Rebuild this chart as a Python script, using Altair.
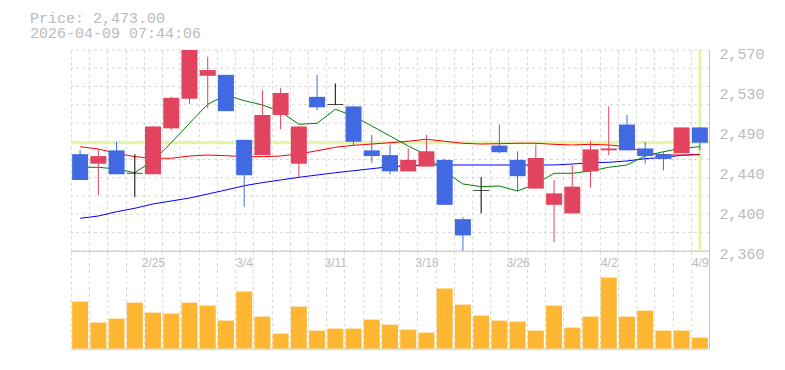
import json
import pandas as pd
import altair as alt

# ---------------- data ----------------
dates = ['2/18', '2/19', '2/20', '2/24', '2/25', '2/26', '2/27', '3/2', '3/3', '3/4',
         '3/5', '3/6', '3/9', '3/10', '3/11', '3/12', '3/13', '3/16', '3/17', '3/18',
         '3/19', '3/23', '3/24', '3/25', '3/26', '3/27', '3/30', '3/31', '4/1', '4/2',
         '4/3', '4/6', '4/7', '4/8', '4/9']
opens = [2461, 2451, 2465, 2441, 2440, 2488, 2519, 2543, 2544, 2476,
         2460, 2502, 2451, 2521, 2513, 2511, 2465, 2460, 2443, 2448,
         2455, 2393, 2423, 2470, 2455, 2425, 2408, 2399, 2443, 2465,
         2492, 2467, 2461, 2462, 2489]
highs = [2465, 2466, 2474, 2461, 2490, 2521, 2570, 2563, 2544, 2476,
         2528, 2530, 2490, 2544, 2535, 2511, 2481, 2471, 2467, 2481,
         2456, 2395, 2437, 2492, 2464, 2471, 2434, 2450, 2475, 2511,
         2502, 2474, 2463, 2489, 2489]
lows = [2434, 2418, 2440, 2416, 2440, 2486, 2514, 2509, 2506, 2406,
        2460, 2487, 2437, 2507, 2513, 2470, 2452, 2440, 2443, 2448,
        2408, 2360, 2399, 2462, 2422, 2425, 2369, 2399, 2426, 2460,
        2465, 2451, 2444, 2462, 2465]
closes = [2434, 2459, 2440, 2441, 2490, 2520, 2570, 2549, 2506, 2439,
          2502, 2525, 2490, 2510, 2513, 2474, 2459, 2443, 2455, 2464,
          2408, 2376, 2423, 2463, 2438, 2457, 2420, 2427, 2466, 2467,
          2465, 2459, 2456, 2489, 2473]
ma_short = [2447.3, 2447.3, 2445.5, 2441.6, 2454.2, 2473.0, 2493.3, 2513.2, 2522.9, 2517.0,
            2512.5, 2505.4, 2492.3, 2493.3, 2508.0, 2500.9, 2490.5, 2480.0, 2469.6, 2460.1,
            2442.7, 2429.8, 2427.0, 2427.7, 2422.5, 2429.8, 2441.0, 2441.0, 2443.4, 2447.3,
            2449.7, 2459.1, 2463.6, 2467.1, 2468.8]
ma_mid = [2468.8, 2466.4, 2461.9, 2458.4, 2456.7, 2456.7, 2459.1, 2460.1, 2459.4, 2458.4,
          2458.4, 2459.1, 2461.2, 2464.6, 2468.2, 2470.3, 2471.6, 2473.0, 2474.5, 2476.6,
          2474.5, 2472.4, 2471.6, 2472.0, 2472.4, 2472.4, 2471.3, 2470.6, 2471.3, 2470.6,
          2468.8, 2462.5, 2460.4, 2460.1, 2460.4]
ma_long = [2393.9, 2396.3, 2400.8, 2404.4, 2408.9, 2412.0, 2415.1, 2419.3, 2423.5, 2428.0,
           2431.2, 2434.0, 2436.8, 2439.2, 2441.6, 2443.7, 2445.8, 2447.9, 2448.9, 2449.7,
           2449.7, 2449.7, 2449.7, 2449.7, 2449.7, 2449.7, 2449.7, 2450.7, 2452.1, 2452.5,
           2453.9, 2456.3, 2457.7, 2459.8, 2460.9]
volumes = [47000, 26000, 30000, 46000, 36000, 35000, 46000, 43000, 28000, 57000,
           32000, 15000, 42000, 18000, 20000, 20000, 29000, 24000, 19000, 16000,
           60000, 44000, 33000, 28000, 27000, 18000, 43000, 21000, 32000, 71000,
           32000, 38000, 18000, 18000, 11000]
x_label_dates = ['2/25', '3/4', '3/11', '3/18', '3/26', '4/2', '4/9']
y_tick_values = [2360, 2402, 2444, 2486, 2528, 2570]
y_tick_labels = ['2,360', '2,400', '2,440', '2,490', '2,530', '2,570']
price_domain = [2360, 2570]
volume_domain = [0, 97600]
current_price = 2473
price_text = "Price: 2,473.00"
time_text = "2026-04-09 07:44:06"

# ---------------- styles ----------------
RED = "#e2435e"
BLUE = "#4169e1"
ORANGE = "#ffb733"
HILITE = "#e2f5a6"
GRID = "#d8d8d8"
BORDER = "#c4c4c4"
LABEL = "#bbbbbb"
MONO = "Liberation Mono"
W = 638
PH = 200.7
VH = 97.6

df = pd.DataFrame({
    'i': list(range(len(dates))), 'd': dates, 'o': opens, 'h': highs, 'l': lows,
    'c': closes, 'ma_s': ma_short, 'ma_m': ma_mid, 'ma_l': ma_long, 'v': volumes,
})
df['dir'] = ['up' if c > o else ('down' if c < o else 'flat') for o, c in zip(opens, closes)]

grid_vals = [price_domain[0] + (price_domain[1] - price_domain[0]) * k / 11 for k in range(12)]

x_scale = alt.Scale(domain=dates, paddingInner=0, paddingOuter=0, round=False)
y_scale = alt.Scale(domain=price_domain, nice=False, zero=False)
color_scale = alt.Scale(domain=['up', 'down', 'flat'], range=[RED, BLUE, 'black'])

x_label_expr = f"indexof({json.dumps(x_label_dates)}, datum.value) >= 0 ? datum.value : ''"
y_label_expr = f"{json.dumps(y_tick_labels)}[indexof({json.dumps(y_tick_values)}, datum.value)]"

price_x_axis = alt.Axis(
    title=None, labelExpr=x_label_expr, ticks=False, tickSize=0, domain=True,
    domainColor=BORDER, domainWidth=1, grid=True, gridColor=GRID, gridDash=[3, 3],
    tickBand='extent', labelFont='Liberation Sans', labelFontSize=12, labelColor=LABEL,
    labelPadding=7, labelAngle=0, labelFlush=False, labelOverlap=False)
price_y_axis = alt.Axis(
    title=None, orient='right', values=y_tick_values, labelExpr=y_label_expr,
    ticks=False, tickSize=0, grid=False, domain=True, domainColor=BORDER,
    labelFont=MONO, labelFontSize=15, labelColor=LABEL, labelPadding=10,
    labelOffset=3, labelFlush=False, labelOverlap=False)


def xenc():
    return alt.X('d:O', scale=x_scale, axis=price_x_axis, title=None)


def yenc(field):
    return alt.Y(field, scale=y_scale, axis=price_y_axis, title=None)


grid = alt.Chart(pd.DataFrame({'g': grid_vals})).mark_rule(
    color=GRID, strokeDash=[3, 3], strokeWidth=1).encode(y=yenc('g:Q'))

cur_h = alt.Chart(pd.DataFrame({'p': [current_price]})).mark_rule(
    color=HILITE, strokeWidth=3).encode(y=yenc('p:Q'))

cur_v = alt.Chart(pd.DataFrame({'d': [dates[-1]]})).mark_rule(
    color=HILITE, strokeWidth=3).encode(x=xenc())


def ma_line(field, color):
    return alt.Chart(df).mark_line(color=color, strokeWidth=1).encode(
        x=xenc(), y=yenc(f'{field}:Q'), order=alt.Order('i:Q'))


wicks = alt.Chart(df).mark_rule(strokeWidth=1).encode(
    x=xenc(), y=yenc('h:Q'), y2='l:Q',
    color=alt.Color('dir:N', scale=color_scale, legend=None))

bodies = alt.Chart(df).transform_filter("datum.dir != 'flat'").mark_bar(size=16).encode(
    x=xenc(), y=yenc('o:Q'), y2='c:Q',
    color=alt.Color('dir:N', scale=color_scale, legend=None))

doji = alt.Chart(df).transform_filter("datum.dir == 'flat'").mark_tick(
    size=16, thickness=1, color='black').encode(x=xenc(), y=yenc('o:Q'))

t1 = alt.Chart(pd.DataFrame({'t': [price_text]})).mark_text(
    align='left', baseline='top', font=MONO, fontSize=15, color=LABEL).encode(
    x=alt.value(-41), y=alt.value(-39), text='t:N')
t2 = alt.Chart(pd.DataFrame({'t': [time_text]})).mark_text(
    align='left', baseline='top', font=MONO, fontSize=15, color=LABEL).encode(
    x=alt.value(-41), y=alt.value(-24), text='t:N')

price_chart = alt.layer(
    grid, cur_h, cur_v,
    ma_line('ma_l', '#0000ff'), ma_line('ma_m', '#ff0000'), ma_line('ma_s', '#008000'),
    wicks, bodies, doji, t1, t2,
).properties(width=W, height=PH)

vol_x_axis = alt.Axis(
    title=None, labels=False, ticks=False, tickSize=0, domain=True, domainColor=BORDER,
    grid=True, gridColor=GRID, gridDash=[3, 3], tickBand='extent')
vol_y_axis = alt.Axis(
    title=None, orient='right', labels=False, ticks=False, tickSize=0, grid=False,
    domain=True, domainColor=BORDER)

vol_chart = alt.Chart(df).mark_bar(size=16, color=ORANGE).encode(
    x=alt.X('d:O', scale=x_scale, axis=vol_x_axis, title=None),
    y=alt.Y('v:Q', scale=alt.Scale(domain=volume_domain, nice=False), axis=vol_y_axis, title=None),
).properties(width=W, height=VH)

chart = alt.vconcat(price_chart, vol_chart, spacing=0, bounds='flush').properties(
    padding={'left': 22, 'top': 3, 'right': 10, 'bottom': 5},
    background='white',
).configure_view(strokeWidth=0)

chart.save("out.html", embed_options={"renderer": "svg", "actions": False})
